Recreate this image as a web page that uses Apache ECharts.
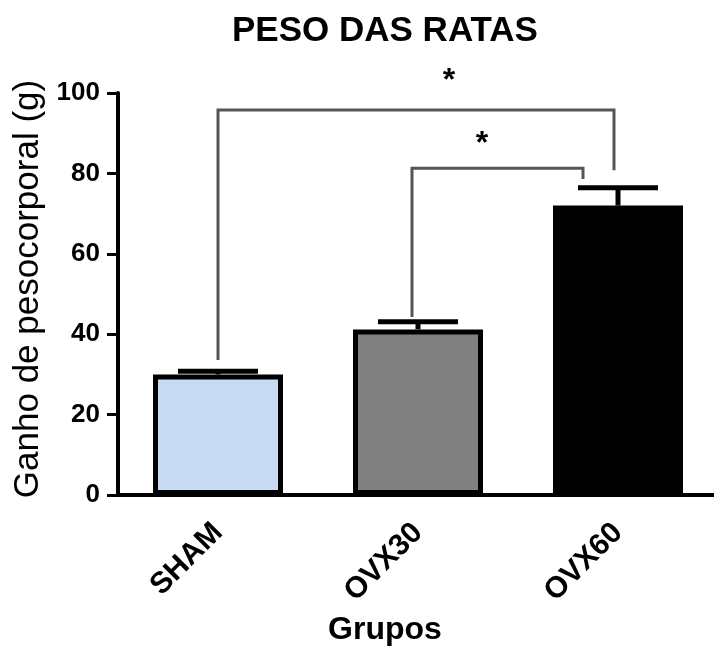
<!DOCTYPE html>
<html>
<head>
<meta charset="utf-8">
<script src="https://cdn.jsdelivr.net/npm/echarts@6/dist/echarts.min.js"></script>
<style>
  html, body { margin: 0; padding: 0; background: #fff; }
  #chart { width: 714px; height: 646px; }
</style>
</head>
<body>
<div id="chart"></div>
<script>
// Body-weight gain per group (mean and SEM, g)
const categories = ['SHAM', 'OVX30', 'OVX60'];
const means = [30.0, 41.2, 72.0];
const sems = [0.8, 1.9, 4.4];
const barColors = ['#c7dbf4', '#808080', '#000000'];

// y axis scale
const yMin = 0;
const yMax = 100;
const yStep = 20;

// significance brackets: [x left, x right, y of bar, y left foot, y right foot]
// x in category units (0 = SHAM centre, 1 = OVX30, 2 = OVX60)
const brackets = [
  [0.0, 1.98, 95.8, 33.6, 80.8],
  [0.97, 1.825, 81.3, 44.3, 78.6]
];
// significance marks: [x, y, text]
const stars = [
  [1.155, 104.5, '*'],
  [1.32, 88.8, '*']
];

const FONT = '"Liberation Sans", Arial, sans-serif';

const chart = echarts.init(document.getElementById('chart'), null, { renderer: 'canvas' });

chart.setOption({
  backgroundColor: '#ffffff',
  animation: false,
  title: {
    text: 'PESO DAS RATAS',
    left: 232,
    top: 14,
    padding: 0,
    textStyle: { fontFamily: FONT, fontSize: 35, fontWeight: 'bold', color: '#000' }
  },
  grid: { left: 118, top: 93, width: 600, height: 402, containLabel: false, outerBoundsMode: 'none' },
  xAxis: [
    {
      type: 'category',
      data: categories,
      name: 'Grupos',
      nameLocation: 'middle',
      nameGap: 116,
      nameTextStyle: { fontFamily: FONT, fontSize: 32, fontWeight: 'bold', color: '#000', padding: [0, 66, 0, 0] },
      axisLine: { lineStyle: { color: '#000', width: 4 } },
      axisTick: { alignWithLabel: true, length: 10, lineStyle: { color: '#000', width: 3 } },
      axisLabel: { rotate: 45, margin: 33, fontFamily: FONT, fontSize: 30, fontWeight: 'bold', color: '#000' },
      splitLine: { show: false }
    },
    {
      type: 'value',
      min: -0.5,
      max: 2.5,
      show: false
    }
  ],
  yAxis: {
    type: 'value',
    min: yMin,
    max: yMax,
    interval: yStep,
    name: 'Ganho de pesocorporal (g)',
    nameLocation: 'middle',
    nameGap: 72,
    nameTextStyle: { fontFamily: FONT, fontSize: 35, color: '#000', padding: [0, 0, 0, 10] },
    axisLine: { show: true, onZero: false, lineStyle: { color: '#000', width: 4 } },
    axisTick: { show: true, length: 11, lineStyle: { color: '#000', width: 3 } },
    axisLabel: { margin: 18, fontFamily: FONT, fontSize: 26, fontWeight: 'bold', color: '#000' },
    splitLine: { show: false }
  },
  series: [
    {
      type: 'bar',
      barWidth: 130,
      data: means.map((v, i) => ({
        value: v,
        itemStyle: { color: barColors[i], borderColor: '#000', borderWidth: 5 }
      }))
    },
    {
      // SEM error bars (upper side only)
      type: 'custom',
      xAxisIndex: 0,
      z: 3,
      data: categories.map((c, i) => [i, means[i], sems[i]]),
      renderItem: function (params, api) {
        const i = api.value(0), m = api.value(1), s = api.value(2);
        const base = api.coord([i, m]);
        const top = api.coord([i, m + s]);
        const half = api.size([1, 0])[0] * 0.2;
        return {
          type: 'group',
          children: [
            { type: 'line', shape: { x1: base[0], y1: base[1], x2: top[0], y2: top[1] },
              style: { stroke: '#000', lineWidth: 5 } },
            { type: 'line', shape: { x1: top[0] - half, y1: top[1], x2: top[0] + half, y2: top[1] },
              style: { stroke: '#000', lineWidth: 5 } }
          ]
        };
      }
    },
    {
      // comparison brackets
      type: 'custom',
      xAxisIndex: 1,
      clip: false,
      z: 4,
      data: brackets,
      renderItem: function (params, api) {
        const b = brackets[params.dataIndex];
        const pts = [
          api.coord([b[0], b[3]]),
          api.coord([b[0], b[2]]),
          api.coord([b[1], b[2]]),
          api.coord([b[1], b[4]])
        ];
        return { type: 'polyline', shape: { points: pts },
          style: { stroke: '#555555', lineWidth: 3, fill: null } };
      }
    },
    {
      // asterisks above the brackets
      type: 'custom',
      xAxisIndex: 1,
      clip: false,
      z: 4,
      data: stars,
      renderItem: function (params, api) {
        const s = stars[params.dataIndex];
        const p = api.coord([s[0], s[1]]);
        return {
          type: 'text',
          x: p[0],
          y: p[1] + 6,
          style: { text: s[2], fontFamily: FONT, fontSize: 32, fontWeight: 'bold',
            fill: '#000', align: 'center', verticalAlign: 'middle' }
        };
      }
    }
  ]
});
</script>
</body>
</html>
